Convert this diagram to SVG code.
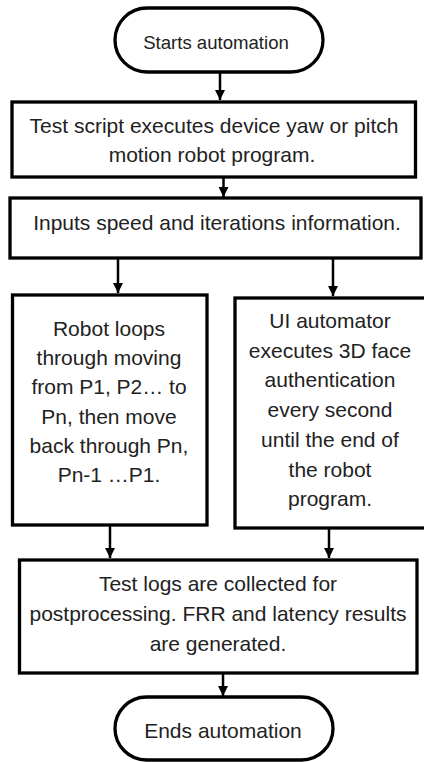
<svg xmlns="http://www.w3.org/2000/svg" width="424" height="762" viewBox="0 0 424 762">
<style>
.box{fill:#fff;stroke:#000;stroke-width:3.3}
.t{font-family:"Liberation Sans",Arial,sans-serif;font-size:21px;fill:#222;text-anchor:middle}
.c{stroke:#000;stroke-width:2.5;fill:none}
</style>
<defs>
<marker id="ah" markerUnits="userSpaceOnUse" markerWidth="10" markerHeight="10" viewBox="0 0 10 10" refX="10" refY="5" orient="auto">
<path d="M0,0 L10,5 L0,10 Z" fill="#000"/>
</marker>
</defs>
<rect width="424" height="762" fill="#fff"/>
<g id="connectors">
<line class="c" x1="220" y1="72" x2="220" y2="100" marker-end="url(#ah)"/>
<line class="c" x1="223.5" y1="177" x2="223.5" y2="197" marker-end="url(#ah)"/>
<line class="c" x1="118" y1="258" x2="118" y2="293" marker-end="url(#ah)"/>
<line class="c" x1="333" y1="258" x2="333" y2="296" marker-end="url(#ah)"/>
<line class="c" x1="110" y1="525" x2="110" y2="558" marker-end="url(#ah)"/>
<line class="c" x1="329" y1="528" x2="329" y2="558" marker-end="url(#ah)"/>
<line class="c" x1="223" y1="673" x2="223" y2="696" marker-end="url(#ah)"/>
</g>
<g id="start">
<rect class="box" x="115" y="8" width="208" height="64" rx="32" ry="32"/>
<text class="t" x="216" y="49" style="font-size:18.6px">Starts automation</text>
</g>
<g id="script">
<rect class="box" x="12" y="102" width="403.5" height="75"/>
<text class="t" x="214" y="133">Test script executes device yaw or pitch</text>
<text class="t" x="212" y="162">motion robot program.</text>
</g>
<g id="inputs">
<rect class="box" x="10" y="198" width="411" height="60"/>
<text class="t" x="217" y="230">Inputs speed and iterations information.</text>
</g>
<g id="robot">
<rect class="box" x="12.5" y="295" width="194.5" height="230"/>
<text class="t" x="109" y="336">Robot loops</text>
<text class="t" x="109" y="365.2">through moving</text>
<text class="t" x="109" y="394.4">from P1, P2… to</text>
<text class="t" x="109" y="423.6">Pn, then move</text>
<text class="t" x="109" y="452.8">back through Pn,</text>
<text class="t" x="109" y="482">Pn-1 …P1.</text>
</g>
<g id="ui">
<rect class="box" x="235" y="298" width="192" height="230"/>
<text class="t" x="330" y="328">UI automator</text>
<text class="t" x="330" y="357.7">executes 3D face</text>
<text class="t" x="330" y="387.4">authentication</text>
<text class="t" x="330" y="417.1">every second</text>
<text class="t" x="330" y="446.8">until the end of</text>
<text class="t" x="330" y="476.5">the robot</text>
<text class="t" x="330" y="506.2">program.</text>
</g>
<g id="logs">
<rect class="box" x="19.5" y="560" width="397.5" height="113"/>
<text class="t" x="218" y="591">Test logs are collected for</text>
<text class="t" x="218" y="621">postprocessing. FRR and latency results</text>
<text class="t" x="218" y="651">are generated.</text>
</g>
<g id="end">
<rect class="box" x="115" y="697" width="218" height="63" rx="31.5" ry="31.5"/>
<text class="t" x="223" y="738">Ends automation</text>
</g>
</svg>
